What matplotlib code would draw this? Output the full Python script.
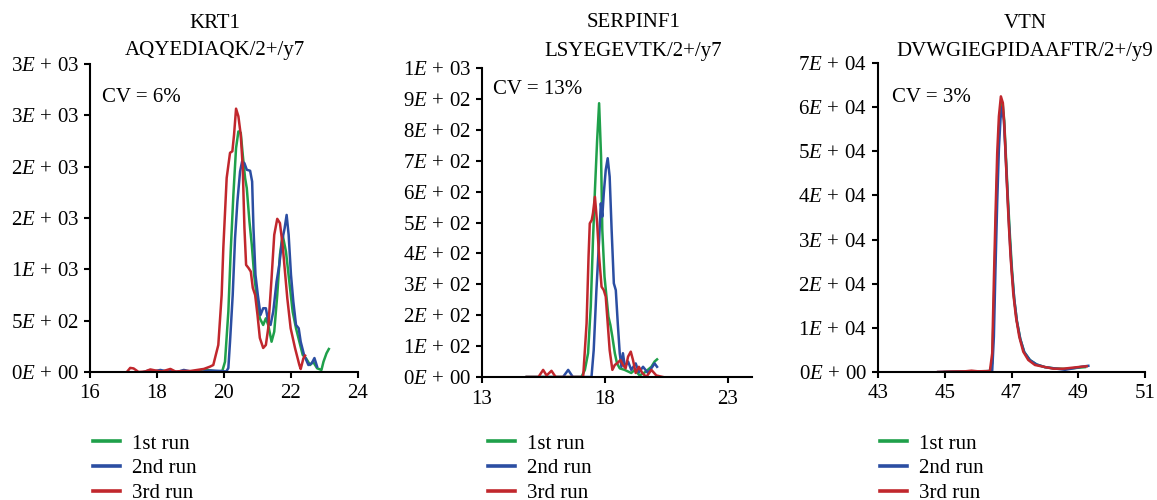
import matplotlib
matplotlib.use("Agg")
import matplotlib.pyplot as plt
from matplotlib.ticker import FixedLocator, FixedFormatter

plt.rcParams['font.family'] = ['Liberation Serif', 'DejaVu Serif']
plt.rcParams['mathtext.fontset'] = 'custom'
plt.rcParams['mathtext.rm'] = 'Liberation Serif'
plt.rcParams['mathtext.it'] = 'Liberation Serif:italic'

GREEN = '#1fa04a'
BLUE = '#2b4ea2'
RED = '#c1272d'

# ---- KRT1 ----
krt1_run1_x = [19.2, 19.35, 19.5, 19.65, 19.8, 19.95, 20.03, 20.13, 20.2, 20.28, 20.36, 20.43, 20.5, 20.56,
               20.63, 20.68, 20.76, 20.83, 20.9, 20.97, 21.07, 21.17, 21.25, 21.32, 21.42, 21.5, 21.59, 21.67,
               21.75, 21.85, 21.95, 22.05, 22.15, 22.25, 22.35, 22.45, 22.57, 22.66, 22.78, 22.91, 22.97, 23.06, 23.13]
krt1_run1_y = [0, 25, 20, 10, 5, 10, 100, 588, 1173, 1726, 2181, 2343, 2330, 2116, 1889, 1791, 1465, 1238,
               946, 750, 523, 458, 523, 458, 295, 393, 750, 1141, 1336, 1173, 880, 588, 426, 295, 166, 133,
               68, 100, 36, 20, 100, 182, 224]
krt1_run2_x = [17.6, 17.75, 17.9, 18.1, 18.3, 18.45, 18.6, 18.8, 19.0, 19.3, 19.6, 19.9, 20.07, 20.13, 20.18,
               20.26, 20.33, 20.4, 20.48, 20.54, 20.61, 20.68, 20.78, 20.84, 20.88, 20.94, 21.01, 21.09, 21.17,
               21.25, 21.32, 21.39, 21.47, 21.57, 21.65, 21.73, 21.81, 21.87, 21.93, 22.0, 22.07, 22.15, 22.23,
               22.29, 22.39, 22.52, 22.62, 22.7, 22.78]
krt1_run2_y = [0, 15, 5, 20, 5, 10, 0, 20, 5, 0, 15, 10, 5, 39, 295, 750, 1303, 1660, 1953, 2050, 2034, 1970,
               1960, 1855, 1400, 946, 750, 556, 621, 621, 491, 458, 588, 880, 1043, 1270, 1400, 1530, 1336,
               946, 685, 458, 426, 295, 166, 68, 85, 136, 52]
krt1_run3_x = [17.1, 17.2, 17.3, 17.45, 17.65, 17.8, 17.95, 18.15, 18.4, 18.55, 18.8, 19.0, 19.2, 19.4, 19.58,
               19.68, 19.83, 19.93, 19.98, 20.08, 20.18, 20.25, 20.3, 20.36, 20.43, 20.5, 20.56, 20.61, 20.66,
               20.73, 20.8, 20.86, 20.93, 21.0, 21.07, 21.17, 21.25, 21.32, 21.42, 21.5, 21.59, 21.67, 21.75,
               21.82, 21.89, 21.99, 22.12, 22.25, 22.29, 22.37, 22.42]
krt1_run3_y = [0, 40, 35, 0, 5, 25, 15, 5, 30, 5, 10, 10, 20, 30, 52, 68, 263, 750, 1209, 1890, 2135, 2150,
               2310, 2565, 2490, 2310, 1990, 1404, 1043, 1014, 978, 819, 750, 556, 332, 234, 263, 426, 913,
               1336, 1492, 1450, 1238, 978, 718, 426, 234, 68, 29, 133, 160]
krt1_yticks = [0, 500, 1000, 1500, 2000, 2500, 3000]
krt1_ylabels = ['0E+00', '5E+02', '1E+03', '2E+03', '2E+03', '3E+03', '3E+03']
krt1_xticks = [16, 18, 20, 22, 24]

# ---- SERPINF1 ----
serp_run1_x = [14.82, 16.5, 17.05, 17.19, 17.32, 17.43, 17.52, 17.6, 17.69, 17.77, 17.85, 17.9, 17.99, 18.07,
               18.15, 18.23, 18.31, 18.41, 18.5, 18.61, 18.81, 19.08, 19.22, 19.42, 19.63, 19.9, 20.03, 20.13]
serp_run1_y = [0, 0, 0, 23, 77, 228, 443, 605, 767, 886, 713, 476, 325, 260, 195, 168, 130, 77, 44, 28, 23,
               13, 23, 5, 15, 33, 50, 57]
serp_run2_x = [14.82, 16.3, 16.51, 16.7, 17.46, 17.55, 17.66, 17.77, 17.84, 17.9, 17.96, 18.04, 18.12, 18.2,
               18.28, 18.37, 18.45, 18.53, 18.61, 18.68, 18.74, 18.82, 18.95, 19.08, 19.26, 19.39, 19.56,
               19.76, 19.94, 20.03, 20.13]
serp_run2_y = [0, 0, 23, 0, 0, 87, 281, 443, 562, 519, 594, 670, 708, 648, 476, 303, 281, 174, 77, 33, 77, 33,
               50, 23, 44, 15, 33, 13, 33, 44, 33]
serp_run3_x = [14.82, 15.3, 15.49, 15.63, 15.83, 16.0, 16.5, 17.12, 17.26, 17.34, 17.39, 17.47, 17.52, 17.6,
               17.69, 17.77, 17.87, 17.96, 18.04, 18.12, 18.2, 18.31, 18.41, 18.5, 18.64, 18.74, 18.85, 18.95,
               19.06, 19.15, 19.26, 19.39, 19.53, 19.69, 19.9, 20.1, 20.37]
serp_run3_y = [0, 0, 23, 5, 20, 0, 0, 0, 174, 390, 497, 508, 530, 583, 497, 390, 292, 281, 260, 174, 87, 23,
               39, 44, 55, 39, 28, 66, 82, 55, 13, 33, 13, 0, 23, 5, 0]
serp_yticks = [0, 100, 200, 300, 400, 500, 600, 700, 800, 900, 1000]
serp_ylabels = ['0E+00', '1E+02', '2E+02', '3E+02', '4E+02', '5E+02', '6E+02', '7E+02', '8E+02', '9E+02', '1E+03']
serp_xticks = [13, 18, 23]

# ---- VTN ----
vtn_run1_x = [45.0, 45.5, 46.0, 46.35, 46.42, 46.47, 46.52, 46.57, 46.62, 46.67, 46.73, 46.78, 46.83, 46.89,
              46.95, 47.01, 47.08, 47.16, 47.26, 47.38, 47.55, 47.75, 48.0, 48.3, 48.6, 48.9, 49.2]
vtn_run1_y = [0, 100, 150, 200, 2000, 15000, 31000, 45000, 55000, 60000, 61000, 57000, 49000, 39500, 31000,
              23500, 16500, 11500, 7500, 4500, 2700, 1700, 1100, 800, 700, 900, 1100]
vtn_run2_x = [44.8, 45.3, 45.8, 46.2, 46.42, 46.47, 46.52, 46.57, 46.62, 46.67, 46.72, 46.77, 46.82, 46.88,
              46.94, 47.0, 47.08, 47.16, 47.26, 47.38, 47.55, 47.75, 48.0, 48.3, 48.6, 48.9, 49.1, 49.3]
vtn_run2_y = [0, 100, 100, 150, 300, 8000, 24000, 38500, 50500, 57500, 60000, 57000, 49500, 40000, 31000,
              23500, 16500, 11500, 7500, 4500, 2700, 1700, 1100, 800, 500, 900, 1200, 1400]
vtn_run3_x = [44.8, 45.2, 45.6, 45.8, 46.0, 46.2, 46.35, 46.42, 46.47, 46.52, 46.57, 46.62, 46.68, 46.74,
              46.79, 46.85, 46.91, 46.97, 47.05, 47.13, 47.23, 47.35, 47.5, 47.7, 47.95, 48.25, 48.55, 48.85,
              49.1, 49.25]
vtn_run3_y = [0, 100, 150, 300, 150, 200, 200, 4240, 20860, 35990, 49600, 57900, 62440, 60940, 54880, 44290,
              34470, 26150, 17850, 12540, 8010, 4600, 2720, 1590, 1200, 750, 750, 1000, 1200, 1300]
vtn_yticks = [0, 10000, 20000, 30000, 40000, 50000, 60000, 70000]
vtn_ylabels = ['0E+00', '1E+04', '2E+04', '3E+04', '4E+04', '5E+04', '6E+04', '7E+04']
vtn_xticks = [43, 45, 47, 49, 51]

run_labels = ['1st run', '2nd run', '3rd run']

panels = [
    dict(pos=[0.0778, 0.256, 0.2316, 0.616], gene='KRT1', pep='AQYEDIAQK/2+/y7', cv='CV = 6%',
         runs=[(krt1_run1_x, krt1_run1_y), (krt1_run2_x, krt1_run2_y), (krt1_run3_x, krt1_run3_y)],
         xlim=(16, 24), xticks=krt1_xticks, ylim=(0, 3000), yticks=krt1_yticks, ylabels=krt1_ylabels,
         title_x=0.466, title_y=(1.133, 1.045), cv_pos=(0.045, 0.89), leg_x=93),
    dict(pos=[0.4166, 0.246, 0.2334, 0.618], gene='SERPINF1', pep='LSYEGEVTK/2+/y7', cv='CV = 13%',
         runs=[(serp_run1_x, serp_run1_y), (serp_run2_x, serp_run2_y), (serp_run3_x, serp_run3_y)],
         xlim=(13, 24), xticks=serp_xticks, ylim=(0, 1000), yticks=serp_yticks, ylabels=serp_ylabels,
         title_x=0.56, title_y=(1.146, 1.052), cv_pos=(0.04, 0.929), leg_x=488),
    dict(pos=[0.7589, 0.256, 0.2308, 0.618], gene='VTN', pep='DVWGIEGPIDAAFTR/2+/y9', cv='CV = 3%',
         runs=[(vtn_run1_x, vtn_run1_y), (vtn_run2_x, vtn_run2_y), (vtn_run3_x, vtn_run3_y)],
         xlim=(43, 51), xticks=vtn_xticks, ylim=(0, 70000), yticks=vtn_yticks, ylabels=vtn_ylabels,
         title_x=0.55, title_y=(1.129, 1.036), cv_pos=(0.052, 0.887), leg_x=880),
]

fig = plt.figure(figsize=(11.57, 5.0), dpi=100)

for p in panels:
    ax = fig.add_axes(p['pos'])
    for (x, y), c, lab in zip(p['runs'], [GREEN, BLUE, RED], run_labels):
        ax.plot(x, y, color=c, lw=1.8, label=lab)
    ax.set_xlim(*p['xlim'])
    ax.set_ylim(*p['ylim'])
    ax.xaxis.set_major_locator(FixedLocator(p['xticks']))
    ax.yaxis.set_major_locator(FixedLocator(p['yticks']))
    ax.yaxis.set_major_formatter(FixedFormatter(['$' + s.replace('+', r'\,+\,') + '$' for s in p['ylabels']]))
    for s in ['top', 'right']:
        ax.spines[s].set_visible(False)
    for s in ['left', 'bottom']:
        ax.spines[s].set_linewidth(1.5)
    ax.tick_params(direction='out', length=4, width=1.5, labelsize=15, pad=4)
    ax.tick_params(axis='x', pad=5)
    ax.text(p['title_x'], p['title_y'][0], p['gene'], transform=ax.transAxes, ha='center', va='center', fontsize=15)
    ax.text(p['title_x'], p['title_y'][1], p['pep'], transform=ax.transAxes, ha='center', va='center', fontsize=15)
    ax.text(p['cv_pos'][0], p['cv_pos'][1], p['cv'], transform=ax.transAxes, ha='left', va='center', fontsize=15)
    leg = fig.legend(*ax.get_legend_handles_labels(), loc='upper left',
                     bbox_to_anchor=(p['leg_x'] / 1157, (500 - 434) / 500), frameon=False,
                     borderpad=0, borderaxespad=0, handlelength=1.3, handletextpad=0.55,
                     labelspacing=0.25, fontsize=15)
    for h in leg.get_lines():
        h.set_linewidth(2.6)

fig.savefig('out.png', dpi=100)
